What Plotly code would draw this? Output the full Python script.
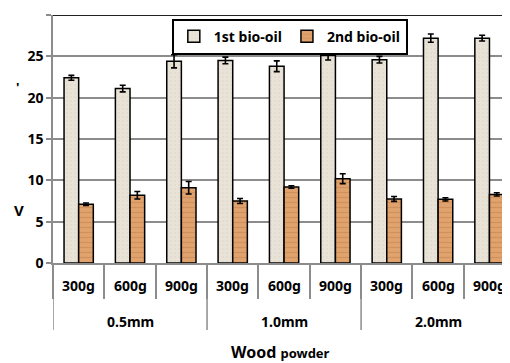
import plotly.graph_objects as go

sizes = ["0.5mm", "0.5mm", "0.5mm", "1.0mm", "1.0mm", "1.0mm", "2.0mm", "2.0mm", "2.0mm"]
masses = ["300g", "600g", "900g", "300g", "600g", "900g", "300g", "600g", "900g"]

first_oil = [22.4, 21.1, 24.4, 24.5, 23.8, 25.1, 24.6, 27.2, 27.2]
first_err = [0.3, 0.4, 0.8, 0.4, 0.65, 0.55, 0.4, 0.5, 0.35]
second_oil = [7.1, 8.2, 9.1, 7.5, 9.2, 10.2, 7.75, 7.7, 8.3]
second_err = [0.15, 0.45, 0.75, 0.3, 0.15, 0.6, 0.3, 0.2, 0.2]

keys = [f"{s} {m}" for s, m in zip(sizes, masses)]

FONT = "Noto Sans"
GRID = "#8c8c8c"
PLOT_H = 248.0  # plot-area height in px (for paper offsets below the axis)

fig = go.Figure()
fig.add_trace(go.Bar(
    name="1st bio-oil", x=keys, y=first_oil,
    error_y=dict(type="data", array=first_err, color="black", thickness=1.6, width=3),
    marker=dict(color="#e6dfd3", line=dict(color="black", width=1.5),
                pattern=dict(shape=".", fgcolor="#d6cdbd", bgcolor="#e8e2d7", size=4, solidity=0.15)),
))
fig.add_trace(go.Bar(
    name="2nd bio-oil", x=keys, y=second_oil,
    error_y=dict(type="data", array=second_err, color="black", thickness=1.6, width=3),
    marker=dict(color="#dc9a62", line=dict(color="black", width=1.5),
                pattern=dict(shape="-", fgcolor="#c47e4c", bgcolor="#e0a36d", size=5, solidity=0.25)),
))

annotations = []
# level-1 labels (mass)
for i, m in enumerate(masses):
    annotations.append(dict(text=f"<b>{m}</b>", xref="x", yref="paper", x=i, y=-22 / PLOT_H,
                            showarrow=False, xanchor="center", yanchor="middle",
                            font=dict(family=FONT, size=14, color="black")))
# level-2 labels (particle size) and long dividers
shapes = [dict(type="line", xref="paper", yref="y", x0=0, x1=1, y0=30, y1=30,
               line=dict(color="#222222", width=2))]
groups = []
for i, s in enumerate(sizes):
    if not groups or groups[-1][0] != s:
        groups.append([s, i, i])
    else:
        groups[-1][2] = i
for s, a, b in groups:
    annotations.append(dict(text=f"<b>{s}</b>", xref="x", yref="paper", x=(a + b) / 2, y=-58 / PLOT_H,
                            showarrow=False, xanchor="center", yanchor="middle",
                            font=dict(family=FONT, size=14, color="black")))
    shapes.append(dict(type="line", xref="x", yref="paper", x0=a - 0.5, x1=a - 0.5,
                       y0=0, y1=-67 / PLOT_H, line=dict(color=GRID, width=1.5)))

annotations += [
    dict(text="<b>Wood</b> <span style='font-size:13px'><b>powder</b></span>",
         xref="paper", yref="paper", x=0.497, y=-89 / PLOT_H, showarrow=False,
         font=dict(family=FONT, size=16, color="black"), xanchor="center", yanchor="middle"),
    dict(text="<b>V</b>", xref="paper", yref="paper", x=-0.075, y=0.215, showarrow=False,
         font=dict(family=FONT, size=15, color="black"), xanchor="center", yanchor="middle"),
    dict(text="<b>'</b>", xref="paper", yref="paper", x=-0.078, y=0.71, showarrow=False,
         font=dict(family=FONT, size=13, color="black"), xanchor="center", yanchor="middle"),
]

# The page body has an 8px default margin, so the figure is sized 8px smaller
fig.update_layout(
    width=502, height=355,
    margin=dict(l=45, r=0, t=7, b=100),
    paper_bgcolor="white", plot_bgcolor="white",
    barmode="group", bargap=0.43, bargroupgap=0,
    font=dict(family=FONT, size=12, color="black", weight="bold"),
    showlegend=True,
    legend=dict(
        orientation="h", x=0.26, y=0.985, xanchor="left", yanchor="top",
        bgcolor="white", bordercolor="black", borderwidth=2,
        font=dict(family=FONT, size=14, color="black", weight="bold"),
        itemwidth=30, tracegroupgap=0,
    ),
    xaxis=dict(
        type="category", range=[-0.5, 8.4], automargin=False,
        showline=True, linecolor=GRID, linewidth=1.5,
        ticks="outside", tickson="boundaries", ticklen=34, tickcolor=GRID, tickwidth=1.5,
        showticklabels=False, showgrid=False,
    ),
    yaxis=dict(
        range=[0, 30], dtick=5, automargin=False,
        showgrid=True, gridcolor=GRID, gridwidth=1.5,
        showline=True, linecolor=GRID, linewidth=1.5,
        ticks="outside", ticklen=5, tickcolor=GRID, tickwidth=1.5,
        tickfont=dict(family=FONT, size=14, color="black", weight="bold"),
        zeroline=False,
    ),
    shapes=shapes,
    annotations=annotations,
)

fig.write_html("out.html")
